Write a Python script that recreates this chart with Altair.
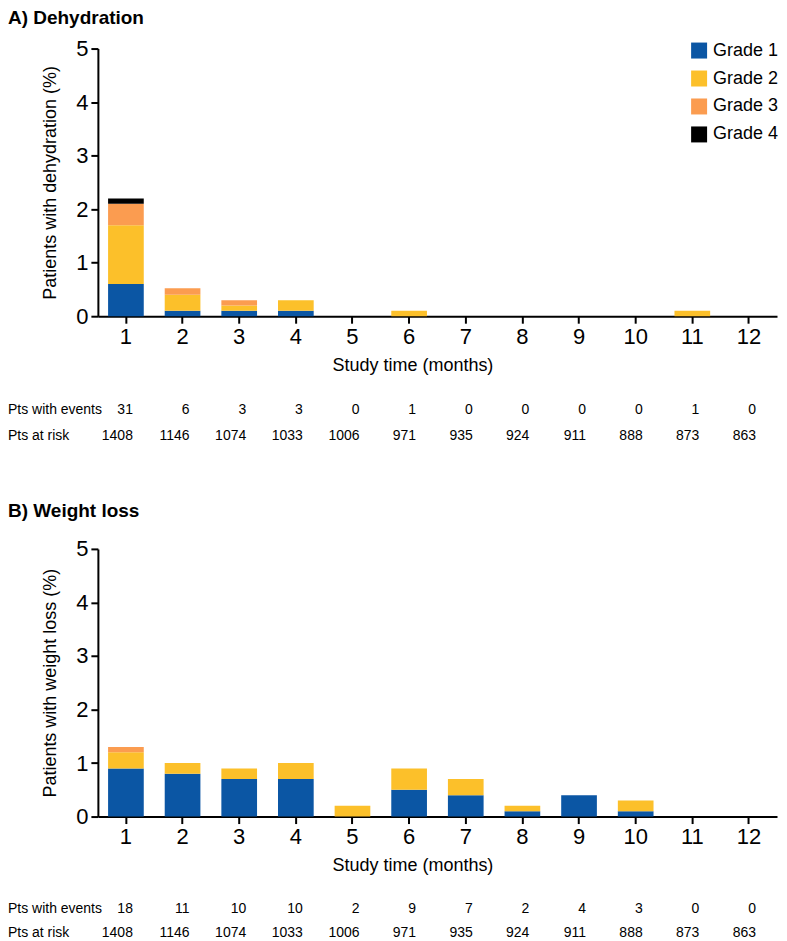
import altair as alt
import pandas as pd

months = list(range(1, 13))
grades = ["Grade 1", "Grade 2", "Grade 3", "Grade 4"]
colors = ["#0b56a4", "#fcc02a", "#fb9c50", "#000000"]

at_risk = [1408, 1146, 1074, 1033, 1006, 971, 935, 924, 911, 888, 873, 863]

dehyd_g1 = [0.6, 0.1, 0.1, 0.1, 0, 0, 0, 0, 0, 0, 0, 0]
dehyd_g2 = [1.1, 0.3, 0.1, 0.2, 0, 0.1, 0, 0, 0, 0, 0.1, 0]
dehyd_g3 = [0.4, 0.12, 0.1, 0, 0, 0, 0, 0, 0, 0, 0, 0]
dehyd_g4 = [0.1, 0, 0, 0, 0, 0, 0, 0, 0, 0, 0, 0]
dehyd_events = [31, 6, 3, 3, 0, 1, 0, 0, 0, 0, 1, 0]

wl_g1 = [0.9, 0.8, 0.7, 0.7, 0, 0.5, 0.4, 0.1, 0.4, 0.1, 0, 0]
wl_g2 = [0.3, 0.2, 0.2, 0.3, 0.2, 0.4, 0.3, 0.1, 0, 0.2, 0, 0]
wl_g3 = [0.1, 0, 0, 0, 0, 0, 0, 0, 0, 0, 0, 0]
wl_g4 = [0, 0, 0, 0, 0, 0, 0, 0, 0, 0, 0, 0]
wl_events = [18, 11, 10, 10, 2, 9, 7, 2, 4, 3, 0, 0]

FONT = "Liberation Sans Narrow, Arial Narrow, Liberation Sans, Arial, sans-serif"
W, H = 680, 268
LEFT = -90
TAB_FS = 14


def panel(title, ytitle, g_lists, events, title_y, legend_y, row1_y, row2_y):
    rows = []
    for gi, (g, vals) in enumerate(zip(grades, g_lists)):
        for m, v in zip(months, vals):
            if v > 0:
                rows.append({"month": m, "grade": g, "gi": gi, "pct": v})
    bars_df = pd.DataFrame(rows)

    xenc = alt.X(
        "month:O",
        title="Study time (months)",
        scale=alt.Scale(domain=months, paddingInner=0.37, paddingOuter=0.18),
        axis=alt.Axis(
            labelAngle=0, labelFontSize=22, labelFont=FONT, labelColor="black",
            labelPadding=3, tickSize=7, tickWidth=2, tickColor="black",
            domainColor="black", domainWidth=2,
            titleFontSize=18, titleFont=FONT, titleFontWeight="normal",
            titleColor="black", titlePadding=9, titleX=315, titleAlign="center",
        ),
    )
    bars = alt.Chart(bars_df).mark_bar().encode(
        x=xenc,
        y=alt.Y(
            "pct:Q", stack="zero", title=ytitle,
            scale=alt.Scale(domain=[0, 5], nice=False),
            axis=alt.Axis(
                values=[0, 1, 2, 3, 4, 5], grid=False, labelFontSize=22,
                labelFont=FONT, labelColor="black", labelPadding=3,
                tickSize=7, tickWidth=2, tickColor="black",
                domainColor="black", domainWidth=2,
                titleFontSize=18, titleFont=FONT, titleFontWeight="normal",
                titleColor="black", titlePadding=16,
            ),
        ),
        color=alt.Color(
            "grade:N",
            scale=alt.Scale(domain=grades, range=colors),
            legend=alt.Legend(
                title=None, orient="none", legendX=593, legendY=legend_y,
                symbolType="square", symbolSize=256, symbolStrokeWidth=0,
                symbolOpacity=1, labelFontSize=18, labelFont=FONT,
                labelColor="black", rowPadding=10, labelOffset=5,
            ),
        ),
        order=alt.Order("gi:Q", sort="ascending"),
    )

    tab_df = pd.DataFrame({"month": months, "events": events, "risk": at_risk})
    ev = alt.Chart(tab_df).mark_text(
        align="right", baseline="middle", dx=7, fontSize=TAB_FS, font=FONT, color="black"
    ).encode(x=xenc, y=alt.value(row1_y), text="events:Q")
    rk = alt.Chart(tab_df).mark_text(
        align="right", baseline="middle", dx=7, fontSize=TAB_FS, font=FONT, color="black"
    ).encode(x=xenc, y=alt.value(row2_y), text="risk:Q")

    lab1 = alt.Chart(pd.DataFrame({"t": ["Pts with events"]})).mark_text(
        align="left", baseline="middle", fontSize=TAB_FS, font=FONT, color="black"
    ).encode(x=alt.value(LEFT), y=alt.value(row1_y), text="t:N")
    lab2 = alt.Chart(pd.DataFrame({"t": ["Pts at risk"]})).mark_text(
        align="left", baseline="middle", fontSize=TAB_FS, font=FONT, color="black"
    ).encode(x=alt.value(LEFT), y=alt.value(row2_y), text="t:N")

    ttl = alt.Chart(pd.DataFrame({"t": [title]})).mark_text(
        align="left", baseline="middle", fontSize=19, font=FONT,
        fontWeight="bold", color="black"
    ).encode(x=alt.value(LEFT), y=alt.value(title_y), text="t:N")

    return alt.layer(bars, ev, rk, lab1, lab2, ttl).properties(width=W, height=H)


pa = panel("A) Dehydration", "Patients with dehydration (%)",
           [dehyd_g1, dehyd_g2, dehyd_g3, dehyd_g4], dehyd_events, -31, -7, 362, 388)
pb = panel("B) Weight loss", "Patients with weight loss (%)",
           [wl_g1, wl_g2, wl_g3, wl_g4], wl_events, -38, -6, 361, 385)

chart = alt.vconcat(pa, pb, spacing=59).properties(padding=0).configure(
    font=FONT, view=alt.ViewConfig(strokeWidth=0, stroke="transparent")
)

chart.save("out.html", embed_options={"renderer": "svg", "actions": False})
